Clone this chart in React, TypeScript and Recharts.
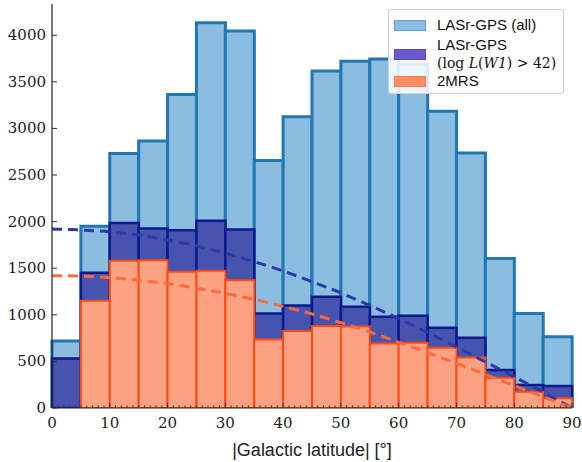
import React from 'react';
import { ComposedChart, Bar, Line, XAxis, YAxis, Legend } from 'recharts';

// bins of 5 degrees, counts
const binStarts = [0, 5, 10, 15, 20, 25, 30, 35, 40, 45, 50, 55, 60, 65, 70, 75, 80, 85];
const allCounts = [720, 1950, 2730, 2865, 3365, 4135, 4045, 2655, 3125, 3615, 3720, 3745, 3690, 3185, 2735, 1605, 1015, 765];
const brightCounts = [532, 1450, 1986, 1925, 1908, 2008, 1915, 1015, 1100, 1193, 1086, 979, 990, 861, 754, 407, 246, 236];
const mrsCounts = [0, 1150, 1579, 1586, 1461, 1472, 1372, 736, 825, 879, 874, 693, 700, 646, 543, 325, 175, 104];

// dashed curves, every 5 degrees
const curveLat = [0, 5, 10, 15, 20, 25, 30, 35, 40, 45, 50, 55, 60, 65, 70, 75, 80, 85, 90];
const brightCurve = [1920, 1910, 1890, 1855, 1800, 1740, 1660, 1570, 1470, 1355, 1235, 1100, 960, 810, 655, 495, 335, 170, 0];
const mrsCurve = [1420, 1415, 1400, 1370, 1335, 1285, 1230, 1165, 1090, 1010, 915, 815, 705, 595, 480, 360, 240, 120, 0];

const yTicks = [0, 500, 1000, 1500, 2000, 2500, 3000, 3500, 4000];
// minor ticks every degree, labels every 10
const xAllTicks = Array.from({ length: 91 }, (_, i) => i);

const legendItems = [
  { key: 'all', fill: '#8bbde0', stroke: '#5fa2d6' },
  { key: 'bright', fill: '#6a5acd', stroke: '#5a48c0' },
  { key: 'mrs', fill: '#ff8c69', stroke: '#ff7a4a' },
];

const histData = binStarts.map((b, i) => ({
  bin: b,
  all: allCounts[i],
  bright: brightCounts[i],
  mrs: mrsCounts[i],
}));
const brightLine = curveLat.map((lat, i) => ({ lat, v: brightCurve[i] }));
const mrsLine = curveLat.map((lat, i) => ({ lat, v: mrsCurve[i] }));

const serif = '"DejaVu Serif", serif';
const sans = '"Liberation Sans", Arial, sans-serif';
const frame = { stroke: '#222', strokeWidth: 1.2 };

const BottomTick = (props: any) => {
  const { x, y, payload } = props;
  const major = payload.value % 10 === 0;
  return (
    <g>
      <line x1={x} y1={y} x2={x} y2={y - (major ? 5 : 2.5)} stroke="#333" strokeWidth={1} />
      {major && (
        <text x={x} y={y + 20} textAnchor="middle" fontFamily={serif} fontSize={15} fill="#222">
          {payload.value}
        </text>
      )}
    </g>
  );
};

const TopTick = (props: any) => {
  const { x, y, payload } = props;
  const major = payload.value % 10 === 0;
  return <line x1={x} y1={y} x2={x} y2={y + (major ? 5 : 2.5)} stroke="#333" strokeWidth={1} />;
};

const LeftTick = (props: any) => {
  const { x, y, payload } = props;
  return (
    <g>
      <line x1={x} y1={y} x2={x + 5} y2={y} stroke="#333" strokeWidth={1} />
      <text x={x - 6} y={y + 5} textAnchor="end" fontFamily={serif} fontSize={15} fill="#222">
        {payload.value}
      </text>
    </g>
  );
};

const RightTick = (props: any) => {
  const { x, y } = props;
  return <line x1={x} y1={y} x2={x - 5} y2={y} stroke="#333" strokeWidth={1} />;
};

const Swatch = ({ fill, stroke }: { fill: string; stroke: string }) => (
  <div style={{ width: 30, height: 9, background: fill, border: `1px solid ${stroke}`, flexShrink: 0 }} />
);

const LegendBox = () => (
  <div
    style={{
      width: 176,
      height: 85,
      boxSizing: 'border-box',
      background: 'rgba(255,255,255,0.85)',
      border: '1px solid #d0d0d0',
      borderRadius: 3,
      fontFamily: sans,
      fontSize: 15,
      color: '#111',
      padding: '6px 0 0 5px',
      lineHeight: '18px',
    }}
  >
    <div style={{ display: 'flex', alignItems: 'center', gap: 11 }}>
      <Swatch {...legendItems[0]} />
      <span>LASr-GPS (all)</span>
    </div>
    <div style={{ display: 'flex', alignItems: 'center', gap: 11, marginTop: 2 }}>
      <Swatch {...legendItems[1]} />
      <span>
        LASr-GPS
        <br />
        <span style={{ fontFamily: serif, fontSize: 14 }}>
          (log <i>L</i>(<i>W1</i>) &gt; 42)
        </span>
      </span>
    </div>
    <div style={{ display: 'flex', alignItems: 'center', gap: 11 }}>
      <Swatch {...legendItems[2]} />
      <span>2MRS</span>
    </div>
  </div>
);

export default function App() {
  return (
    <div style={{ position: 'absolute', left: 0, top: 0, width: 582, height: 462, background: '#fff' }}>
      <ComposedChart
        width={582}
        height={462}
        data={histData}
        barCategoryGap={0}
        margin={{ top: 4, right: 10, bottom: 0, left: 0 }}
      >
        <XAxis
          xAxisId="num"
          dataKey="lat"
          type="number"
          domain={[0, 90]}
          allowDataOverflow
          ticks={xAllTicks}
          interval={0}
          tick={<BottomTick />}
          tickLine={false}
          tickSize={0}
          tickMargin={0}
          height={54}
          axisLine={frame}
          label={{
            value: '|Galactic latitude| [°]',
            position: 'insideBottom',
            offset: 6,
            style: { fontFamily: sans, fontSize: 18, fill: '#222' },
          }}
        />
        <XAxis
          xAxisId="top"
          orientation="top"
          type="number"
          domain={[0, 90]}
          ticks={xAllTicks}
          interval={0}
          tick={<TopTick />}
          tickLine={false}
          tickSize={0}
          tickMargin={0}
          height={0}
          axisLine={frame}
        />
        <XAxis xAxisId="c1" dataKey="bin" hide height={0} />
        <XAxis xAxisId="c2" dataKey="bin" hide height={0} />
        <XAxis xAxisId="c3" dataKey="bin" hide height={0} />
        <YAxis
          type="number"
          domain={[0, 4335]}
          allowDataOverflow
          ticks={yTicks}
          interval={0}
          tick={<LeftTick />}
          tickLine={false}
          tickSize={0}
          tickMargin={0}
          width={52}
          axisLine={frame}
        />
        <YAxis
          yAxisId="right"
          orientation="right"
          type="number"
          domain={[0, 4335]}
          allowDataOverflow
          ticks={yTicks}
          interval={0}
          tick={<RightTick />}
          tickLine={false}
          tickSize={0}
          tickMargin={0}
          width={0}
          axisLine={frame}
        />
        <Bar xAxisId="c1" dataKey="all" fill="#8bbde0" stroke="#1f77b4" strokeWidth={3} isAnimationActive={false} />
        <Bar xAxisId="c2" dataKey="bright" fill="#4654b0" stroke="#0c1a8e" strokeWidth={2.5} isAnimationActive={false} />
        <Bar xAxisId="c3" dataKey="mrs" fill="#fca283" stroke="#ff4a12" strokeWidth={2} isAnimationActive={false} />
        <Line
          xAxisId="num"
          data={brightLine}
          dataKey="v"
          type="monotone"
          stroke="#2e38a8"
          strokeWidth={3}
          strokeDasharray="10 6"
          dot={false}
          isAnimationActive={false}
        />
        <Line
          xAxisId="num"
          data={mrsLine}
          dataKey="v"
          type="monotone"
          stroke="#ff6a3a"
          strokeWidth={3}
          strokeDasharray="10 6"
          dot={false}
          isAnimationActive={false}
        />
        <Legend
          layout="vertical"
          align="center"
          verticalAlign="middle"
          content={() => <LegendBox />}
          wrapperStyle={{ position: 'absolute', left: 388, top: 9, width: 176 }}
        />
      </ComposedChart>
    </div>
  );
}
